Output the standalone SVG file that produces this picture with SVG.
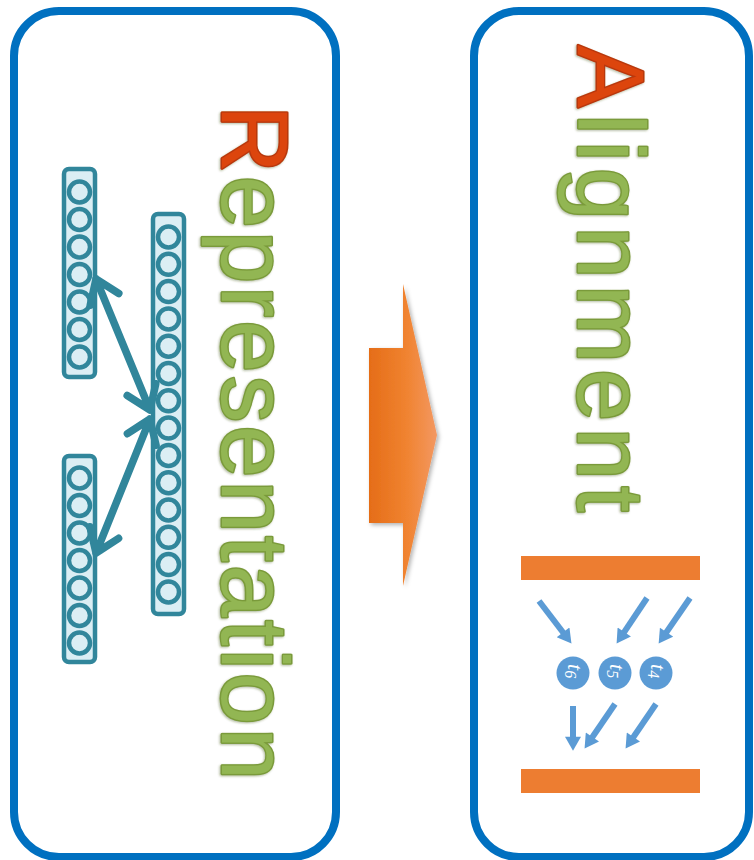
<svg xmlns="http://www.w3.org/2000/svg" width="754" height="860" viewBox="0 0 754 860">
  <style>
    .panel { fill: #ffffff; stroke: #0070c0; stroke-width: 8; }
    .col { fill: #dbeef4; stroke: #31869b; stroke-width: 4.5; }
    .unit { fill: #dbeef4; stroke: #31869b; stroke-width: 4.5; }
    .link { fill: none; stroke: #31869b; stroke-width: 7.5; stroke-linecap: round; stroke-linejoin: round; }
    .flow { fill: none; stroke: #5b9bd5; stroke-width: 6; marker-end: url(#tri); }
    .bar { fill: #ed7d31; }
    .tok { fill: #5b9bd5; }
    .tokl { fill: #ffffff; font-family: "Liberation Serif", serif; font-style: italic; font-size: 22px; }
    .title { font-family: "Liberation Sans", Arial, sans-serif; font-size: 94px; fill: #92b652; stroke: #7a9a3a; stroke-width: 2.8; stroke-linejoin: round; paint-order: stroke; filter: url(#bevel); }
    .init { fill: #dc4410; stroke: #b8380a; }
  </style>
  <defs>
    <linearGradient id="bigArrowFill" gradientUnits="userSpaceOnUse" x1="369" y1="0" x2="437" y2="0">
      <stop offset="0" stop-color="#e56d18"/>
      <stop offset="0.55" stop-color="#f08330"/>
      <stop offset="1" stop-color="#f39862"/>
    </linearGradient>
    <filter id="soft" x="-20%" y="-20%" width="140%" height="140%">
      <feDropShadow dx="2" dy="2" stdDeviation="2" flood-color="#000" flood-opacity="0.3"/>
    </filter>
    <filter id="bevel" x="-10%" y="-10%" width="120%" height="120%">
      <feDropShadow dx="1" dy="1" stdDeviation="0.8" flood-color="#3d5218" flood-opacity="0.4"/>
    </filter>
    <marker id="tri" markerUnits="userSpaceOnUse" markerWidth="16" markerHeight="16" viewBox="0 0 13 15" refX="3" refY="7.5" orient="auto">
      <path d="M0,0 L13,7.5 L0,15 z" fill="#5b9bd5"/>
    </marker>
  </defs>

  <rect width="754" height="860" fill="#ffffff"/>

  <!-- left panel: representation -->
  <g id="panel-representation">
    <rect class="panel" x="14" y="11" width="322" height="846" rx="45"/>
  </g>

  <g id="layer-a">
    <rect class="col" x="64" y="169" width="31" height="208" rx="5"/>
    <circle class="unit" cx="79.5" cy="192" r="10.5"/>
    <circle class="unit" cx="79.5" cy="219.5" r="10.5"/>
    <circle class="unit" cx="79.5" cy="247" r="10.5"/>
    <circle class="unit" cx="79.5" cy="274.5" r="10.5"/>
    <circle class="unit" cx="79.5" cy="302" r="10.5"/>
    <circle class="unit" cx="79.5" cy="329.5" r="10.5"/>
    <circle class="unit" cx="79.5" cy="357" r="10.5"/>
  </g>

  <g id="layer-shared">
    <rect class="col" x="153" y="214" width="31" height="400" rx="5"/>
    <circle class="unit" cx="168.5" cy="237" r="10.5"/>
    <circle class="unit" cx="168.5" cy="264.3" r="10.5"/>
    <circle class="unit" cx="168.5" cy="291.6" r="10.5"/>
    <circle class="unit" cx="168.5" cy="318.9" r="10.5"/>
    <circle class="unit" cx="168.5" cy="346.2" r="10.5"/>
    <circle class="unit" cx="168.5" cy="373.5" r="10.5"/>
    <circle class="unit" cx="168.5" cy="400.8" r="10.5"/>
    <circle class="unit" cx="168.5" cy="428.1" r="10.5"/>
    <circle class="unit" cx="168.5" cy="455.4" r="10.5"/>
    <circle class="unit" cx="168.5" cy="482.7" r="10.5"/>
    <circle class="unit" cx="168.5" cy="510" r="10.5"/>
    <circle class="unit" cx="168.5" cy="537.3" r="10.5"/>
    <circle class="unit" cx="168.5" cy="564.6" r="10.5"/>
    <circle class="unit" cx="168.5" cy="591.9" r="10.5"/>
  </g>

  <g id="layer-b">
    <rect class="col" x="64" y="456" width="31" height="206" rx="5"/>
    <circle class="unit" cx="79.5" cy="478" r="10.5"/>
    <circle class="unit" cx="79.5" cy="505.5" r="10.5"/>
    <circle class="unit" cx="79.5" cy="533" r="10.5"/>
    <circle class="unit" cx="79.5" cy="560.5" r="10.5"/>
    <circle class="unit" cx="79.5" cy="588" r="10.5"/>
    <circle class="unit" cx="79.5" cy="615.5" r="10.5"/>
    <circle class="unit" cx="79.5" cy="643" r="10.5"/>
  </g>

  <g id="title-representation">
    <text class="title" transform="translate(222,105) rotate(90)" x="0" y="0" textLength="675" lengthAdjust="spacing"><tspan class="init">R</tspan>epresentation</text>
  </g>

  <!-- transition arrow -->
  <g id="transition">
    <polygon points="369,348 403,348 403,284 437,435 403,586 403,523 369,523" fill="url(#bigArrowFill)" filter="url(#soft)"/>
  </g>

  <!-- right panel: alignment -->
  <g id="panel-alignment">
    <rect class="panel" x="474" y="11" width="275" height="846" rx="45"/>
  </g>

  <g id="title-alignment">
    <text class="title" transform="translate(578,45) rotate(90)" x="0" y="0" font-size="95" textLength="467" lengthAdjust="spacing"><tspan class="init">A</tspan>lignment</text>
  </g>

  <g id="seq-top">
    <rect class="bar" x="521" y="556" width="179" height="24"/>
  </g>
  <g id="seq-bottom">
    <rect class="bar" x="521" y="769" width="179" height="24"/>
  </g>

  <g id="token-t6">
    <circle class="tok" cx="573" cy="673" r="16.5"/>
    <text class="tokl" transform="translate(573,673) rotate(90)" x="-9" y="5">t<tspan font-size="16" dy="3">6</tspan></text>
  </g>
  <g id="token-t5">
    <circle class="tok" cx="615" cy="673" r="16.5"/>
    <text class="tokl" transform="translate(615,673) rotate(90)" x="-9" y="5">t<tspan font-size="16" dy="3">5</tspan></text>
  </g>
  <g id="token-t4">
    <circle class="tok" cx="656" cy="673" r="16.5"/>
    <text class="tokl" transform="translate(656,673) rotate(90)" x="-9" y="5">t<tspan font-size="16" dy="3">4</tspan></text>
  </g>

  <!-- connectors -->
  <g id="connectors">
    <path class="link" d="M118.8,293.5 L96,279 L90.2,305.3 M96,279 L150,410 M127.2,395.5 L150,410 L155.8,383.7"/>
    <path class="link" d="M156.1,445.3 L150,419 L127.4,433.7 M150,419 L96,553 M89.9,526.7 L96,553 L118.6,538.3"/>
    <path class="flow" d="M539,601 L565,635"/>
    <path class="flow" d="M647,598 L622.5,634.7"/>
    <path class="flow" d="M690,598 L664.7,634.8"/>
    <path class="flow" d="M573,706 L573,740"/>
    <path class="flow" d="M615,704 L590.6,739.7"/>
    <path class="flow" d="M656,704 L631.6,739.7"/>
  </g>
</svg>
